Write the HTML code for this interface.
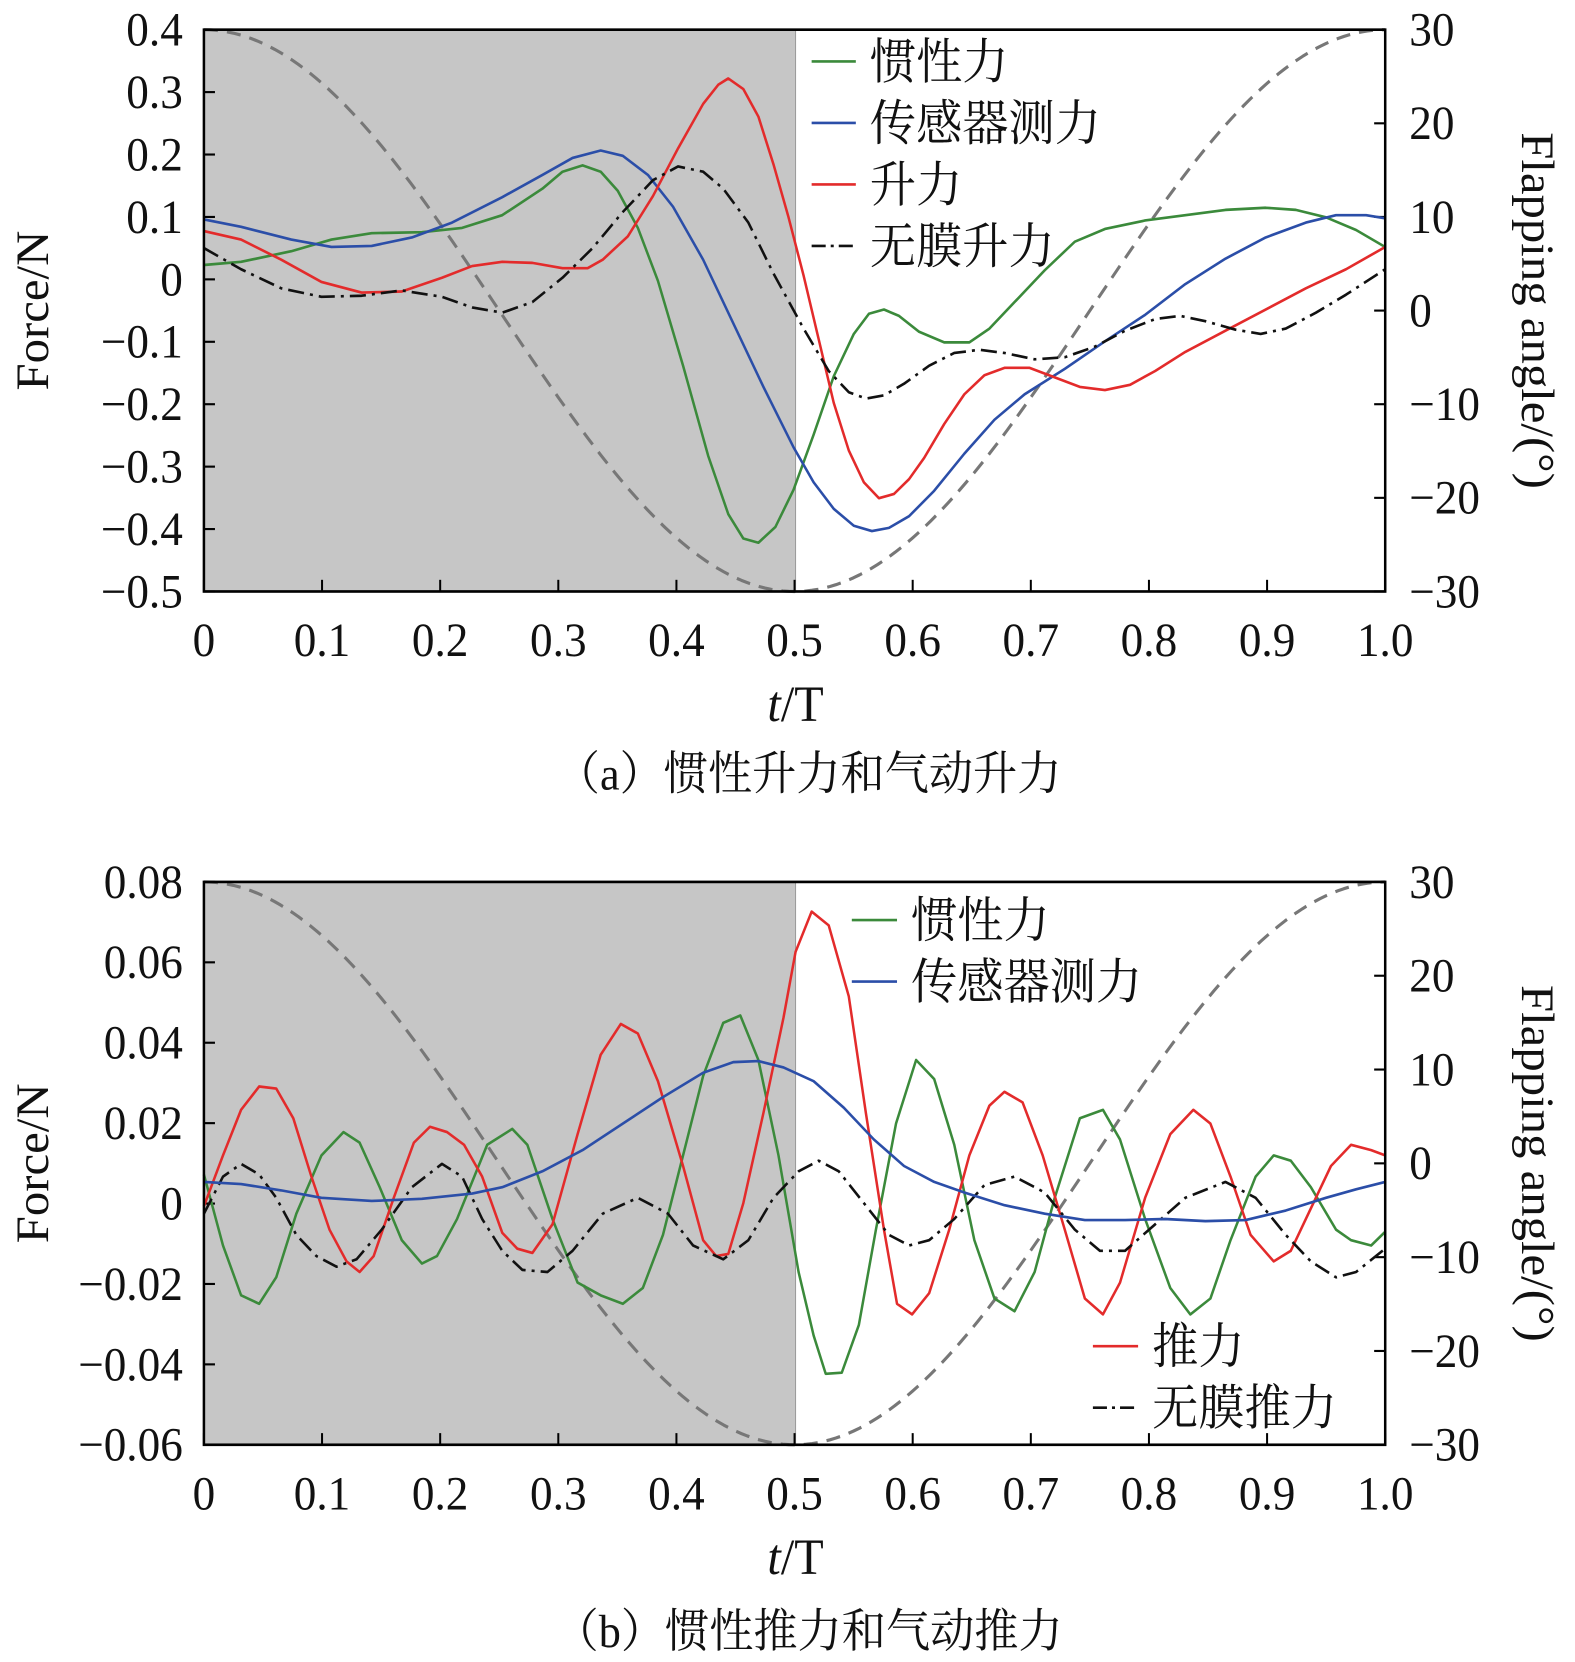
<!DOCTYPE html>
<html><head><meta charset="utf-8"><style>
body{margin:0;background:#fff}
svg{display:block}
text{font-family:"Liberation Serif","Noto Serif CJK SC",serif;fill:#111}
</style></head><body>
<svg id="s" width="1575" height="1662" viewBox="0 0 1575 1662" xmlns="http://www.w3.org/2000/svg"></svg>
<script>
const S=document.getElementById('s');
let h='';
function pl(pts,c,w,dash){h+=`<polyline fill="none" stroke="${c}" stroke-width="${w}" stroke-linejoin="round" ${dash?`stroke-dasharray="${dash}"`:''} points="${pts.map(p=>p.join(',')).join(' ')}"/>`;}
function t(x,y,s,str,anchor,extra){h+=`<text x="${x}" y="${y}" font-size="${s}" text-anchor="${anchor||'start'}" ${extra||''}>${str}</text>`;}
const L=203,R=1379,FS=45;
function panel(top,bot,yl,ytitle){
  h+=`<rect x="${L}" y="${top}" width="${792-L}" height="${bot-top}" fill="#c6c6c6"/>`;
  let p=[];for(let i=0;i<=200;i++){let tt=i/200;let th=30*Math.cos(2*Math.PI*tt);p.push([L+(R-L)*tt,top+(30-th)/60*(bot-top)]);}
  pl(p,'#777',3,'14,9');
  h+=`<line x1="792" y1="${top}" x2="792" y2="${bot}" stroke="#999" stroke-width="1"/>`;
  for(let i=0;i<=10;i++){let x=L+(R-L)*i/10;h+=`<line x1="${x}" y1="${bot}" x2="${x}" y2="${bot-11}" stroke="#000" stroke-width="2"/>`;
    t(x,bot+61,FS,i==10?'1.0':(i==0?'0':'0.'+i),'middle');}
  yl.forEach((v,i)=>{let y=top+(bot-top)*i/(yl.length-1);h+=`<line x1="${L}" y1="${y}" x2="${L+11}" y2="${y}" stroke="#000" stroke-width="2"/>`;t(182,y+15,FS,v,'end');});
  [30,20,10,0,-10,-20,-30].forEach((v,i)=>{let y=top+(bot-top)*i/6;h+=`<line x1="${R}" y1="${y}" x2="${R-11}" y2="${y}" stroke="#000" stroke-width="2"/>`;t(1403,y+15,FS,v<0?'−'+(-v):v,'start');});
  let mid=(top+bot)/2;
  t(0,0,46,'Force/N','middle',`transform="translate(48,${mid}) rotate(-90)"`);
  t(0,0,46,'Flapping angle/(°)','middle',`transform="translate(1515,${mid}) rotate(90)"`);
  t(792,bot+122,48,'<tspan font-style="italic">t</tspan>/T','middle');
}
const G='#3b8a3b',B='#2b4ea8',Rd='#e32b2b',K='#111';
panel(28,558,['0.4','0.3','0.2','0.1','0','−0.1','−0.2','−0.3','−0.4','−0.5']);
panel(832,1363,['0.08','0.06','0.04','0.02','0','−0.02','−0.04','−0.06']);
pl([[203,250],[240,247],[290,237],[330,226],[370,220],[420,219],[460,215],[500,203],[540,178],[560,162],[580,156],[598,162],[615,180],[635,215],[655,265],[680,345],[705,430],[725,485],[740,508],[755,512],[772,497],[790,462],[810,410],[830,355],[850,315],[865,296],[880,292],[895,298],[915,313],[940,323],[965,323],[985,310],[1010,285],[1040,255],[1070,228],[1100,216],[1140,208],[1180,203],[1220,198],[1260,196],[1290,198],[1320,205],[1350,217],[1379,233]],G,2.5);
pl([[203,207],[240,214],[290,226],[330,233],[370,232],[410,224],[450,210],[500,186],[540,165],[570,149],[598,142],[620,147],[645,165],[670,195],[700,245],[730,305],[760,365],[790,422],[810,455],[830,480],[850,496],[868,501],[885,498],[905,487],[930,463],[960,428],[990,396],[1020,372],[1060,348],[1100,322],[1140,297],[1180,268],[1220,244],[1260,224],[1300,210],[1330,203],[1360,203],[1379,206]],B,2.5);
pl([[203,218],[240,226],[280,245],[320,266],[360,276],[400,275],[440,262],[470,251],[500,247],[530,248],[560,253],[585,253],[600,245],[625,223],[650,185],[675,140],[700,98],[715,80],[725,74],[740,84],[755,110],[770,155],[785,205],[800,260],[815,320],[830,380],[845,425],[860,455],[875,470],[890,466],[905,452],[920,432],[940,400],[960,372],[980,354],[1000,347],[1025,347],[1050,356],[1075,365],[1100,368],[1125,363],[1150,350],[1180,332],[1220,312],[1260,292],[1300,272],[1340,254],[1379,233]],Rd,2.5);
pl([[203,234],[240,254],[280,272],[320,280],[360,279],[400,274],[440,280],[470,290],[500,295],[530,285],[560,262],[590,234],[620,200],[650,170],[675,157],[700,162],[720,178],[745,210],[770,258],[800,310],[825,350],[845,370],[862,376],[880,373],[900,362],[925,345],[950,333],[975,330],[1000,333],[1030,339],[1060,337],[1090,327],[1120,312],[1150,301],[1175,298],[1200,303],[1230,311],[1255,315],[1280,310],[1310,295],[1340,278],[1379,254]],K,2.5,'16,6,3,6');
pl([[203,1108],[222,1175],[240,1222],[258,1230],[275,1205],[295,1145],[320,1090],[342,1068],[358,1078],[378,1120],[400,1170],[420,1192],[435,1185],[455,1150],[485,1080],[510,1065],[525,1080],[550,1150],[575,1210],[598,1222],[620,1230],[640,1215],[660,1165],[680,1090],[700,1015],[720,965],[737,958],[755,1000],[775,1090],[795,1200],[810,1260],[822,1296],[838,1295],[855,1250],[872,1160],[892,1060],[912,1000],[930,1018],[950,1080],[970,1170],[990,1225],[1010,1237],[1030,1200],[1050,1130],[1075,1055],[1098,1047],[1115,1075],[1140,1150],[1165,1215],[1185,1240],[1205,1225],[1225,1170],[1250,1110],[1268,1090],[1285,1095],[1305,1120],[1330,1160],[1345,1170],[1365,1175],[1379,1162]],G,2.5);
pl([[203,1138],[222,1090],[240,1047],[258,1025],[275,1027],[292,1055],[310,1110],[328,1160],[345,1190],[358,1200],[372,1185],[392,1130],[412,1078],[428,1063],[445,1068],[462,1080],[480,1110],[500,1163],[515,1178],[530,1182],[550,1155],[575,1070],[598,995],[618,966],[635,975],[655,1020],[680,1100],[700,1170],[713,1185],[725,1183],[740,1135],[760,1050],[780,960],[792,898],[808,860],[825,873],[845,940],[862,1050],[880,1160],[893,1230],[908,1240],[925,1220],[945,1160],[965,1090],[985,1043],[1000,1030],[1018,1040],[1038,1090],[1060,1160],[1080,1225],[1098,1240],[1115,1210],[1140,1130],[1165,1070],[1188,1047],[1205,1060],[1225,1110],[1245,1165],[1268,1190],[1285,1180],[1305,1140],[1325,1100],[1345,1080],[1365,1085],[1379,1090]],Rd,2.5);
pl([[203,1145],[222,1110],[240,1098],[258,1108],[275,1130],[295,1165],[315,1185],[335,1195],[355,1188],[380,1160],[410,1120],[440,1098],[460,1110],[480,1150],[500,1180],[520,1198],[545,1200],[570,1180],[600,1145],[635,1130],[665,1145],[690,1175],[720,1188],[745,1170],[770,1130],[795,1105],[815,1095],[835,1105],[860,1135],[885,1165],[905,1175],[925,1170],[950,1150],[980,1118],[1010,1110],[1040,1125],[1070,1160],[1095,1180],[1120,1180],[1150,1155],[1180,1130],[1220,1115],[1250,1130],[1280,1165],[1305,1190],[1330,1205],[1350,1200],[1379,1178]],K,2.5,'16,6,3,6');
pl([[203,1115],[240,1117],[280,1123],[320,1130],[370,1133],[420,1131],[470,1126],[500,1120],[540,1105],[580,1085],[620,1060],[660,1035],[700,1012],[730,1002],[755,1001],[780,1007],[810,1020],[840,1045],[870,1075],[900,1100],[930,1115],[960,1125],[1000,1137],[1040,1145],[1080,1151],[1120,1151],[1160,1150],[1200,1152],[1240,1151],[1280,1142],[1320,1130],[1350,1122],[1379,1115]],B,2.5);
h+=`<rect x="${L}" y="28" width="${R-L}" height="530" fill="none" stroke="#000" stroke-width="2.5"/>`;
h+=`<rect x="${L}" y="832" width="${R-L}" height="531" fill="none" stroke="#000" stroke-width="2.5"/>`;
function leg(x1,x2,y,c,label,dash){h+=`<line x1="${x1}" y1="${y}" x2="${x2}" y2="${y}" stroke="${c}" stroke-width="2.5" ${dash?'stroke-dasharray="14,5,3,5"':''}/>`;t(x2+14,y+16,46,label);}
leg(808,852,58,G,'惯性力');leg(808,852,116,B,'传感器测力');leg(808,852,174,Rd,'升力');leg(808,852,232,K,'无膜升力',1);
leg(848,893,868,G,'惯性力');leg(848,893,926,B,'传感器测力');
leg(1088,1133,1270,Rd,'推力');leg(1088,1133,1328,K,'无膜推力',1);
t(805,745,44,'（a）惯性升力和气动升力','middle');
t(805,1554,44,'（b）惯性推力和气动推力','middle');
S.innerHTML='<g transform="scale(1.0045,1.06)">'+h+'</g>';
</script>
</body></html>
